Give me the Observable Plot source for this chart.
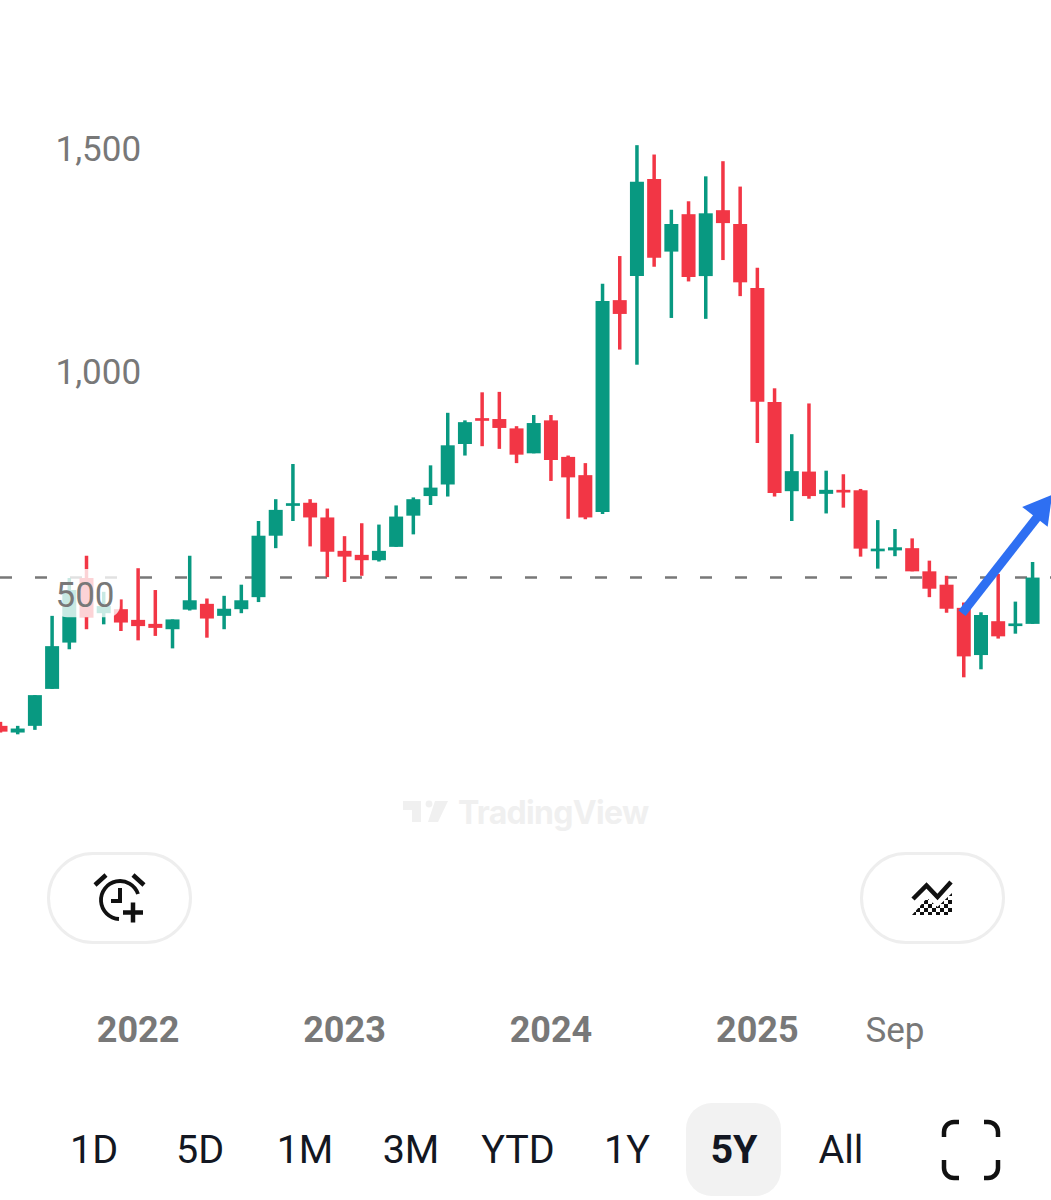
<!DOCTYPE html>
<html>
<head>
<meta charset="utf-8">
<script src="https://cdn.jsdelivr.net/npm/d3@7"></script>
<script src="https://cdn.jsdelivr.net/npm/@observablehq/plot@0.6"></script>
<style>
  html, body { margin: 0; background: #fff; }
  #page { position: relative; width: 1051px; height: 1200px; overflow: hidden; font-family: Roboto, sans-serif; }
  #chart svg { display: block; }
  .pill { position: absolute; top: 852px; width: 145px; height: 92px; box-sizing: border-box; border: 3px solid #eeeeee; border-radius: 46px; background: #fff; }
  .range { position: absolute; top: 1122px; height: 56px; line-height: 56px; width: 100px; text-align: center; font-size: 39.5px; color: #131722; }
  .active { position: absolute; left: 686px; top: 1103px; width: 95px; height: 93px; background: #f2f2f2; border-radius: 26px; }
  #wm { position: absolute; left: 458px; top: 793px; font: 700 32px Inter, sans-serif; color: #f0f0f0; letter-spacing: -0.7px; }
  #decor { position: absolute; left: 0; top: 0; pointer-events: none; }
</style>
</head>
<body>
<div id="page">
  <div id="chart"></div>
  <div id="wm">TradingView</div>
  <div class="pill" style="left:47px"></div>
  <div class="pill" style="left:860px"></div>
  <div class="active"></div>
  <div id="ranges"></div>
  <svg id="decor" width="1051" height="1200" viewBox="0 0 1051 1200">
    <defs>
      <pattern id="chk" width="8" height="8" patternUnits="userSpaceOnUse" x="912" y="880">
        <rect width="4" height="4" fill="#111"/><rect x="4" y="4" width="4" height="4" fill="#111"/>
      </pattern>
    </defs>
    <g fill="#f0f0f0">
      <path d="M403 801h18v21h-9v-12h-9z"/><circle cx="429" cy="804" r="3.4"/><path d="M435 801h13l-10 21h-10z"/>
    </g>
    <g fill="none" stroke="#111">
      <path d="M95 885L106 875M133 875L144 885" stroke-width="4.5"/>
      <path d="M138 894A19 19 0 1 0 119 919" stroke-width="3.8"/>
      <path d="M120 888V901H111" stroke-width="4"/>
      <path d="M123 912.5H143M133 902.5V922.5" stroke-width="4.5"/>
      <path d="M913 899L926.5 885.5L937.5 897L951 882" stroke-width="4.5"/>
    </g>
    <path d="M912 915L927 898L937.5 907L952 893V915Z" fill="url(#chk)"/>
    <g fill="none" stroke="#111" stroke-width="4.5">
      <path d="M944 1137V1132A10 10 0 0 1 954 1122H959"/>
      <path d="M984 1122H988A10 10 0 0 1 998 1132V1137"/>
      <path d="M944 1160V1168A10 10 0 0 0 954 1178H959"/>
      <path d="M984 1178H988A10 10 0 0 0 998 1168V1160"/>
    </g>
  </svg>
</div>
<script>
// Monthly candles, oldest first (index 0 = May 2021)
const open  = [204,189,204,287,391,536,457,466,442,433,421,465,478,451,466,493,631,698,705,672,597,588,576,606,676,720,746,837,895,893,872,816,890,808,767,684,1160,1214,1432,1269,1353,1214,1362,1331,1187,931,731,775,725,734,733,596,598,603,551,521,469,363,439,428,433];
const close = [191,198,273,383,509,448,473,436,428,424,443,486,445,467,486,631,689,704,672,595,584,576,597,674,713,739,834,886,889,873,813,884,801,762,672,1158,1129,1426,1255,1331,1212,1355,1333,1200,932,727,776,720,734,728,602,602,605,551,512,467,360,453,405,434,537];
const high  = [213,204,273,451,536,586,505,488,558,509,443,586,490,496,521,664,713,792,713,692,630,659,656,699,717,789,907,890,953,954,877,902,902,811,794,1197,1259,1508,1487,1363,1382,1438,1472,1415,1233,962,859,928,777,769,736,666,646,625,575,541,481,459,545,483,572];
const low   = [189,185,195,287,376,421,432,417,396,406,378,463,402,421,457,482,603,664,607,538,527,541,573,606,634,700,719,811,832,826,794,816,754,669,668,680,1049,1015,1235,1120,1202,1118,1250,1169,839,719,664,714,681,694,584,557,585,551,493,458,313,331,400,411,433];

const priceTicks = [500, 1000, 1500];
const yearTicks = [8, 20, 32, 44];
const yearLabels = ["2022", "2023", "2024", "2025"];
const monthTicks = [52];
const monthLabels = ["Sep"];
const refPrice = 538;
const arrowLine = [{x1: 55.9, y1: 458, x2: 60.7, y2: 695}];
const arrowHead = [{x: 60.47, y: 691}];
const labelBox = [{x1: 3.2, x2: 6.98, y1: 448, y2: 556}];
const ranges = ["1D","5D","1M","3M","YTD","1Y","5Y","All"];
const rangeCenters = [94,200,305,411,518,627,734,841];

const candles = open.map((o, i) => ({i, open: o, close: close[i], high: high[i], low: low[i]}));
const up = "#089981", down = "#f23645";
const col = d => d.close >= d.open ? up : down;

const chart = Plot.plot({
  width: 1051, height: 1200,
  marginTop: 0, marginRight: 0, marginBottom: 170, marginLeft: 0,
  style: {fontFamily: "Roboto, sans-serif", background: "transparent", overflow: "hidden"},
  x: {domain: [0, 61.1], axis: null},
  y: {domain: [-479, 1834], axis: null},
  marks: [
    Plot.ruleY([refPrice], {stroke: "#787878", strokeWidth: 2.5, strokeDasharray: "12 23"}),
    Plot.ruleX(candles, {x: "i", y1: "low", y2: "high", stroke: col, strokeWidth: 3.5}),
    Plot.ruleX(candles, {x: "i", y1: "open", y2: "close", stroke: col, strokeWidth: 14}),
    Plot.link(arrowLine, {x1: "x1", y1: "y1", x2: "x2", y2: "y2", stroke: "#2e6ff2", strokeWidth: 9}),
    Plot.dot(arrowHead, {x: "x", y: "y", symbol: "triangle", r: 12, rotate: 38, fill: "#2e6ff2", stroke: "none"}),
    Plot.rect(labelBox, {x1: "x1", x2: "x2", y1: "y1", y2: "y2", fill: "#fff", fillOpacity: 0.78, rx: 12}),
    Plot.axisY({ticks: priceTicks, tickFormat: d3.format(","), anchor: "left", tickSize: 0, tickPadding: 0, textAnchor: "start", dx: 55, dy: 1, fontSize: 35, color: "#787878", label: null}),
    Plot.axisX({ticks: yearTicks, tickFormat: d => yearLabels[yearTicks.indexOf(d)], anchor: "bottom", tickSize: 0, tickPadding: 0, lineAnchor: "middle", fontSize: 36, fontWeight: 700, color: "#787878", label: null}),
    Plot.axisX({ticks: monthTicks, tickFormat: d => monthLabels[monthTicks.indexOf(d)], anchor: "bottom", tickSize: 0, tickPadding: 0, lineAnchor: "middle", fontSize: 35, color: "#787878", label: null})
  ]
});
document.getElementById("chart").append(chart);

const host = document.getElementById("ranges");
ranges.forEach((r, k) => {
  const el = document.createElement("div");
  el.className = "range";
  el.textContent = r;
  el.style.left = (rangeCenters[k] - 50) + "px";
  if (r === "5Y") el.style.fontWeight = 700;
  host.append(el);
});
</script>
</body>
</html>
